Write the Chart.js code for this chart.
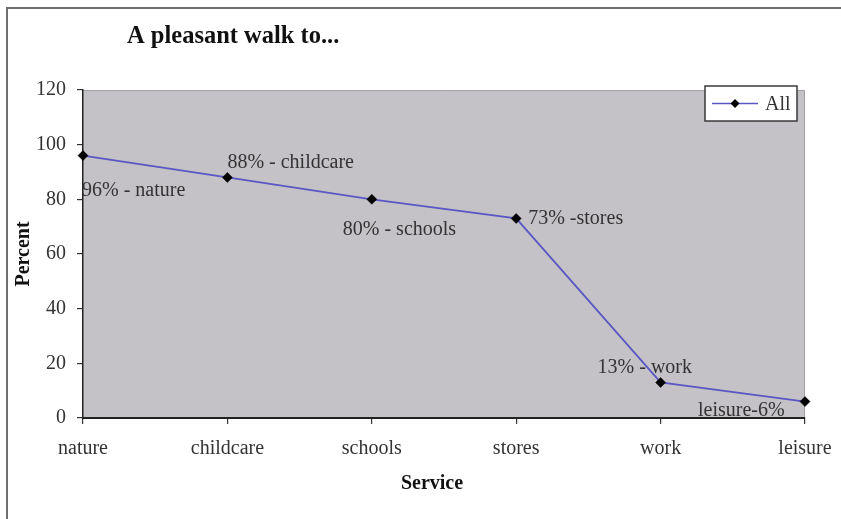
<!DOCTYPE html>
<html>
<head>
<meta charset="utf-8">
<script src="https://cdn.jsdelivr.net/npm/chart.js@4/dist/chart.umd.min.js"></script>
<style>
  html, body { margin: 0; padding: 0; background: #ffffff; }
  #wrap { width: 841px; height: 519px; position: relative; }
</style>
</head>
<body>
<div id="wrap"><canvas id="walk"></canvas></div>
<script>
// Survey: share of respondents with a pleasant walk to each service
const categories = ['nature', 'childcare', 'schools', 'stores', 'work', 'leisure'];
const allPercent = [96, 88, 80, 73, 13, 6];
const percentTicks = [0, 20, 40, 60, 80, 100, 120];
const pointLabelTemplates = ['{v}% - nature', '{v}% - childcare', '{v}% - schools', '{v}% -stores', '{v}% - work', 'leisure-{v}%'];
const seriesName = 'All';
const chartTitle = 'A pleasant walk to...';
const xTitle = 'Service';
const yTitle = 'Percent';

const SERIF = "'Liberation Serif', 'Times New Roman', serif";
const LINE_COLOR = '#5a57c4';
const TEXT_COLOR = '#333333';

// Frame, grey plot area, chart title and category-axis title
const backdrop = {
  id: 'backdrop',
  beforeDraw(chart) {
    const { ctx, chartArea: a, width, height } = chart;
    ctx.save();
    ctx.fillStyle = '#ffffff';
    ctx.fillRect(0, 0, width, height);
    ctx.fillStyle = '#c4c2c6';
    ctx.fillRect(a.left, a.top, a.right - a.left, a.bottom - a.top);
    ctx.strokeStyle = '#a2a0a4';
    ctx.lineWidth = 1;
    ctx.beginPath();
    ctx.moveTo(a.left, a.top + 0.5);
    ctx.lineTo(a.right - 0.5, a.top + 0.5);
    ctx.lineTo(a.right - 0.5, a.bottom);
    ctx.stroke();
    // outer frame
    ctx.strokeStyle = '#6e6e6e';
    ctx.lineWidth = 2;
    ctx.beginPath();
    ctx.moveTo(7, height);
    ctx.lineTo(7, 8);
    ctx.lineTo(width, 8);
    ctx.stroke();
    // chart title
    ctx.fillStyle = '#111111';
    ctx.font = 'bold 24.5px ' + SERIF;
    ctx.textAlign = 'left';
    ctx.textBaseline = 'alphabetic';
    ctx.fillText(chartTitle, 127, 43);
    // category-axis title
    ctx.font = 'bold 20px ' + SERIF;
    ctx.textAlign = 'center';
    ctx.textBaseline = 'middle';
    ctx.fillText(xTitle, 432, 484);
    ctx.restore();
  }
};

// Value labels beside each point
const pointLabels = {
  id: 'pointLabels',
  afterDatasetsDraw(chart, args, opts) {
    const { ctx } = chart;
    const meta = chart.getDatasetMeta(0);
    const values = chart.data.datasets[0].data;
    ctx.save();
    ctx.font = '20px ' + SERIF;
    ctx.fillStyle = TEXT_COLOR;
    ctx.textAlign = 'left';
    ctx.textBaseline = 'alphabetic';
    meta.data.forEach((pt, i) => {
      const text = pointLabelTemplates[i].replace('{v}', values[i]);
      const [dx, dy] = opts.offsets[i];
      ctx.fillText(text, pt.x + dx, pt.y + dy);
    });
    ctx.restore();
  }
};

// Boxed legend inside the plot area, top right
const boxLegend = {
  id: 'boxLegend',
  afterDraw(chart) {
    const { ctx, chartArea: a } = chart;
    const ds = chart.data.datasets[0];
    const x = a.right - 100, y = a.top - 4, w = 92, h = 35;
    ctx.save();
    ctx.fillStyle = '#ffffff';
    ctx.fillRect(x, y, w, h);
    ctx.strokeStyle = '#3a3a3a';
    ctx.lineWidth = 1.5;
    ctx.strokeRect(x, y, w, h);
    const cy = y + h / 2;
    ctx.strokeStyle = ds.borderColor;
    ctx.lineWidth = 1.5;
    ctx.beginPath();
    ctx.moveTo(x + 7, cy);
    ctx.lineTo(x + 53, cy);
    ctx.stroke();
    ctx.fillStyle = '#000000';
    ctx.beginPath();
    ctx.moveTo(x + 30, cy - 4.5);
    ctx.lineTo(x + 34.5, cy);
    ctx.lineTo(x + 30, cy + 4.5);
    ctx.lineTo(x + 25.5, cy);
    ctx.closePath();
    ctx.fill();
    ctx.fillStyle = TEXT_COLOR;
    ctx.font = '20px ' + SERIF;
    ctx.textAlign = 'left';
    ctx.textBaseline = 'middle';
    ctx.fillText(ds.label, x + 60, cy + 1);
    ctx.restore();
  }
};

new Chart(document.getElementById('walk'), {
  type: 'line',
  data: {
    labels: categories,
    datasets: [{
      label: seriesName,
      data: allPercent,
      borderColor: LINE_COLOR,
      borderWidth: 1.8,
      tension: 0,
      fill: false,
      pointStyle: 'rectRot',
      pointRadius: 5,
      pointBackgroundColor: '#000000',
      pointBorderColor: '#000000',
      pointBorderWidth: 0.5,
      clip: false
    }]
  },
  options: {
    responsive: true,
    maintainAspectRatio: false,
    animation: false,
    layout: { padding: { top: 90, right: 36, bottom: 0, left: 0 } },
    plugins: {
      legend: { display: false },
      title: { display: false },
      tooltip: { enabled: false },
      pointLabels: { offsets: [[-1, 40], [0, -9], [-29, 36], [12, 6], [-63, -9], [-107, 14]] }
    },
    scales: {
      x: {
        offset: false,
        grid: { display: true, drawOnChartArea: false, drawTicks: true, tickLength: 6, color: '#333333', lineWidth: 1.2 },
        border: { display: true, color: '#222222', width: 2 },
        ticks: { color: TEXT_COLOR, font: { family: SERIF, size: 20 }, padding: 13, maxRotation: 0, autoSkip: false },
        title: { display: false },
        afterFit(scale) {
          scale.height = 101;
          scale.paddingLeft = 0;
          scale.paddingRight = 0;
        }
      },
      y: {
        min: percentTicks[0],
        max: percentTicks[percentTicks.length - 1],
        afterBuildTicks(scale) { scale.ticks = percentTicks.map(v => ({ value: v })); },
        grid: { display: true, drawOnChartArea: false, drawTicks: true, tickLength: 6, color: '#333333', lineWidth: 1.2 },
        border: { display: true, color: '#222222', width: 1.5 },
        ticks: { color: TEXT_COLOR, font: { family: SERIF, size: 20 }, padding: 11 },
        title: { display: true, text: yTitle, color: '#111111', font: { family: SERIF, size: 20, weight: 'bold' }, padding: { top: 12, bottom: 0 } },
        afterFit(scale) { scale.width = 83; }
      }
    }
  },
  plugins: [backdrop, pointLabels, boxLegend]
});
</script>
</body>
</html>
